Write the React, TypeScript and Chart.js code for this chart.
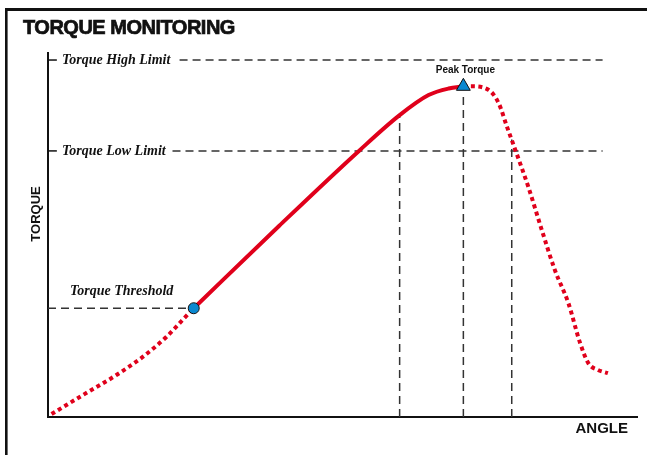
import React, { useEffect, useRef } from 'react';
import { Chart, registerables } from 'chart.js';

Chart.register(...registerables);

// ---- data (angle / torque in arbitrary 0..100 units) ----
const rampAngle = [0.6, 5.9, 11.6, 16.0, 20.1, 23.1, 24.7];
const rampTorque = [0.8, 6.0, 11.5, 16.4, 22.0, 27.1, 29.8];
const riseAngle = [24.7, 39.2, 52.7, 59.6, 64.5, 67.9, 70.4];
const riseTorque = [29.8, 52.4, 72.9, 82.7, 88.2, 90.0, 90.6];
const fallAngle = [70.4, 71.8, 74.7, 76.4, 77.8, 79.2, 81.4, 83.7, 85.9, 88.2, 90.2, 91.6, 93.2, 94.9];
const fallTorque = [90.6, 90.6, 89.6, 85.9, 79.5, 73.2, 63.1, 51.2, 40.3, 31.2, 20.2, 14.7, 12.9, 12.0];

const HIGH_LIMIT = 97.8;
const LOW_LIMIT = 72.9;
const THRESHOLD_ANGLE = 24.7;
const THRESHOLD_TORQUE = 29.8;
const PEAK_ANGLE = 70.4;
const PEAK_TORQUE = 90.6;
const limitStartAngle = [22.3, 21.1];
const LIMIT_END = 94;
const guideAngles = [59.6, 70.4, 78.6];
const guideTops = [82.7, 89.0, 76.0];

const TITLE = 'TORQUE MONITORING';
const X_TITLE = 'ANGLE';
const Y_TITLE = 'TORQUE';
const HIGH_LABEL = 'Torque High Limit';
const LOW_LABEL = 'Torque Low Limit';
const THRESHOLD_LABEL = 'Torque Threshold';
const PEAK_LABEL = 'Peak Torque';

const RED = '#E0001B';
const BLUE = '#0A88D0';
const DASH = '#333333';

const pts = (xs: number[], ys: number[]) => xs.map((x, i) => ({ x, y: ys[i] }));

const decor = {
  id: 'decor',
  beforeDatasetsDraw(chart: any) {
    const { ctx, chartArea: a } = chart;
    ctx.save();
    ctx.fillStyle = '#111';
    ctx.fillRect(5, 8, 642, 3);
    ctx.fillRect(5, 8, 2.6, 447);
    ctx.strokeStyle = '#111';
    ctx.lineWidth = 2;
    ctx.beginPath();
    ctx.moveTo(a.left, a.top);
    ctx.lineTo(a.left, a.bottom);
    ctx.lineTo(a.right, a.bottom);
    ctx.stroke();
    ctx.restore();
  },
  afterDraw(chart: any) {
    const { ctx, chartArea: a, scales } = chart;
    const xs = scales.x;
    const ys = scales.y;
    ctx.save();
    ctx.fillStyle = '#111';
    ctx.strokeStyle = '#111';
    ctx.textBaseline = 'middle';

    ctx.font = 'bold 20px "Liberation Sans", Arial, sans-serif';
    ctx.textAlign = 'left';
    (ctx as any).letterSpacing = '-0.5px';
    ctx.lineWidth = 0.7;
    ctx.fillText(TITLE, 23, 28);
    ctx.strokeText(TITLE, 23, 28);
    (ctx as any).letterSpacing = '0px';

    ctx.font = 'italic bold 14px "Liberation Serif", "Times New Roman", serif';
    ctx.fillText(HIGH_LABEL, a.left + 14, ys.getPixelForValue(HIGH_LIMIT));
    ctx.fillText(LOW_LABEL, a.left + 14, ys.getPixelForValue(LOW_LIMIT));
    ctx.fillText(THRESHOLD_LABEL, a.left + 22, ys.getPixelForValue(THRESHOLD_TORQUE) - 17);

    ctx.font = 'bold 10px "Liberation Sans", Arial, sans-serif';
    ctx.textAlign = 'center';
    ctx.fillText(PEAK_LABEL, xs.getPixelForValue(PEAK_ANGLE) + 2, ys.getPixelForValue(PEAK_TORQUE) - 16);

    ctx.font = 'bold 15px "Liberation Sans", Arial, sans-serif';
    ctx.textAlign = 'right';
    ctx.fillText(X_TITLE, a.right - 10, a.bottom + 12);

    ctx.font = 'bold 13px "Liberation Sans", Arial, sans-serif';
    ctx.textAlign = 'center';
    ctx.translate(36, 214);
    ctx.rotate(-Math.PI / 2);
    ctx.fillText(Y_TITLE, 0, 0);
    ctx.restore();
  },
};

export default function App() {
  const ref = useRef<HTMLCanvasElement>(null);

  useEffect(() => {
    if (!ref.current) return;
    const dashed = (data: { x: number; y: number }[]) => ({
      data,
      borderColor: DASH,
      borderWidth: 1.5,
      borderDash: [8, 5],
      pointRadius: 0,
      tension: 0,
    });
    const chart = new Chart(ref.current, {
      type: 'line',
      data: {
        datasets: [
          {
            data: [{ x: THRESHOLD_ANGLE, y: THRESHOLD_TORQUE }],
            pointStyle: 'circle',
            pointRadius: 5.5,
            pointBackgroundColor: BLUE,
            pointBorderColor: '#111',
            pointBorderWidth: 1,
            showLine: false,
          } as any,
          {
            data: [{ x: PEAK_ANGLE, y: PEAK_TORQUE }],
            pointStyle: 'triangle',
            pointRadius: 8,
            pointBackgroundColor: BLUE,
            pointBorderColor: '#111',
            pointBorderWidth: 1,
            showLine: false,
          } as any,
          {
            data: pts(riseAngle, riseTorque),
            borderColor: RED,
            borderWidth: 4,
            pointRadius: 0,
            cubicInterpolationMode: 'monotone',
          },
          {
            data: pts(rampAngle, rampTorque),
            borderColor: RED,
            borderWidth: 4,
            borderDash: [4, 3.5],
            pointRadius: 0,
            cubicInterpolationMode: 'monotone',
          },
          {
            data: pts(fallAngle, fallTorque),
            borderColor: RED,
            borderWidth: 4,
            borderDash: [4, 3.5],
            pointRadius: 0,
            cubicInterpolationMode: 'monotone',
          },
          dashed([{ x: limitStartAngle[0], y: HIGH_LIMIT }, { x: LIMIT_END, y: HIGH_LIMIT }]),
          dashed([{ x: limitStartAngle[1], y: LOW_LIMIT }, { x: LIMIT_END, y: LOW_LIMIT }]),
          dashed([{ x: 0, y: THRESHOLD_TORQUE }, { x: THRESHOLD_ANGLE, y: THRESHOLD_TORQUE }]),
          ...guideAngles.map((g, i) => dashed([{ x: g, y: 0 }, { x: g, y: guideTops[i] }])),
          {
            data: [{ x: 0, y: HIGH_LIMIT }, { x: 1.5, y: HIGH_LIMIT }],
            borderColor: '#111',
            borderWidth: 1.5,
            pointRadius: 0,
          },
          {
            data: [{ x: 0, y: LOW_LIMIT }, { x: 1.5, y: LOW_LIMIT }],
            borderColor: '#111',
            borderWidth: 1.5,
            pointRadius: 0,
          },
        ] as any,
      },
      options: {
        animation: false,
        responsive: false,
        events: [],
        layout: { padding: { left: 48, top: 52, right: 7, bottom: 38 } },
        plugins: { legend: { display: false }, tooltip: { enabled: false }, title: { display: false } },
        scales: {
          x: { type: 'linear', min: 0, max: 100, display: false },
          y: { type: 'linear', min: 0, max: 100, display: false },
        },
      },
      plugins: [decor],
    });
    return () => chart.destroy();
  }, []);

  return (
    <div style={{ position: 'fixed', left: 0, top: 0, width: 647, height: 455, background: '#fff' }}>
      <canvas ref={ref} width={647} height={455} style={{ display: 'block' }} />
    </div>
  );
}
